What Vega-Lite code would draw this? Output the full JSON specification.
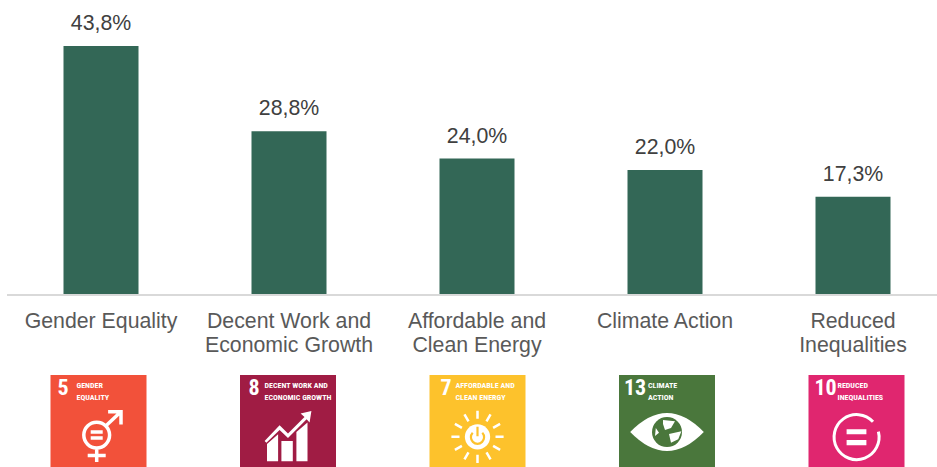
{"$schema":"https://vega.github.io/schema/vega-lite/v6.json","width":937,"height":467,"autosize":"none","padding":0,"background":"white","config":{"view":{"stroke":null},"text":{"font":"Liberation Sans"}},
"data":{"values":[
{"goal":"Gender Equality","cat":"Gender Equality","value":43.8,"label":"43,8%","num":"5","icon":"GENDER|EQUALITY"},
{"goal":"Decent Work","cat":"Decent Work and|Economic Growth","value":28.8,"label":"28,8%","num":"8","icon":"DECENT WORK AND|ECONOMIC GROWTH"},
{"goal":"Affordable","cat":"Affordable and|Clean Energy","value":24.0,"label":"24,0%","num":"7","icon":"AFFORDABLE AND|CLEAN ENERGY"},
{"goal":"Climate","cat":"Climate Action","value":22.0,"label":"22,0%","num":"13","icon":"CLIMATE|ACTION"},
{"goal":"Reduced","cat":"Reduced|Inequalities","value":17.3,"label":"17,3%","num":"10","icon":"REDUCED|INEQUALITIES"}]},
"resolve":{"scale":{"x":"independent"}},
"layer":[
{"layer":[
{"mark":{"type":"bar","width":75,"color":"#336756"},"encoding":{"y":{"field":"value","type":"quantitative"}}},
{"mark":{"type":"text","fontSize":21.3,"color":"#404040","baseline":"alphabetic","dy":-16},"encoding":{"y":{"field":"value","type":"quantitative"},"text":{"field":"label"}}},
{"mark":{"type":"text","fontSize":21.3,"color":"#595959","baseline":"alphabetic","lineBreak":"|","lineHeight":24},"encoding":{"y":{"datum":-5.8,"type":"quantitative"},"text":{"field":"cat"}}}],
"encoding":{"x":{"field":"goal","type":"nominal","sort":null,"axis":null,"scale":{"type":"band","range":[7,947],"paddingInner":0,"paddingOuter":0}},
"y":{"type":"quantitative","axis":null,"scale":{"domain":[-30.25,51.89],"nice":false,"zero":false}}}},
{"mark":{"type":"rule","color":"#D9D9D9","strokeWidth":2},"encoding":{"x":{"datum":0,"type":"quantitative","axis":null,"scale":{"domain":[0,1],"range":[7,937]}},"x2":{"datum":1},"y":{"datum":0,"type":"quantitative","axis":null,"scale":{"domain":[-30.25,51.89],"nice":false,"zero":false}}}},
{"encoding":{"x":{"field":"goal","type":"nominal","sort":null,"axis":null,"scale":{"type":"point","range":[98.5,856.5],"padding":0}},
"y":{"type":"quantitative","axis":null,"scale":{"domain":[-30.25,51.89],"nice":false,"zero":false}}},
"layer":[
{"mark":{"type":"bar","width":96},"encoding":{"y":{"datum":-14.07,"type":"quantitative"},"y2":{"datum":-30.25},"color":{"field":"goal","type":"nominal","legend":null,"scale":{"domain":["Gender Equality","Decent Work","Affordable","Climate","Reduced"],"range":["#F2513A","#A01C44","#FDC22C","#4A773C","#E0266F"]}}}},

{"transform":[{"filter":"datum.num=='5'"}],"layer":[
{"mark":{"type":"text","font":"Roboto Condensed, Liberation Sans","fontWeight":"bold","fontSize":22,"color":"white","align":"left","baseline":"alphabetic","dx":-41},"encoding":{"y":{"datum":-17.5,"type":"quantitative"},"text":{"field":"num"}}},
{"mark":{"type":"text","font":"Roboto Condensed, Liberation Sans","fontWeight":"bold","fontSize":8,"color":"white","align":"left","baseline":"alphabetic","lineBreak":"|","lineHeight":12,"dx":-22},"encoding":{"y":{"datum":-16.4,"type":"quantitative"},"text":{"field":"icon"}}},
{"mark":{"type":"point","shape":"M-.49 0A.43 .43 0 1 0 .37 0A.43 .43 0 1 0 -.49 0M-.06 .43V.9M-.36 .68H.24M.24 -.3L.72 -.75M.32 -.78H.75V-.35M-.26 -.1H.14M-.26 .1H.14","filled":false,"stroke":"white","strokeWidth":3.5,"size":3600,"opacity":1},"encoding":{"y":{"datum":-24.63,"type":"quantitative"}}}]},

{"transform":[{"filter":"datum.num=='8'"}],"layer":[
{"mark":{"type":"text","font":"Roboto Condensed, Liberation Sans","fontWeight":"bold","fontSize":22,"color":"white","align":"left","baseline":"alphabetic","dx":-39.5},"encoding":{"y":{"datum":-17.5,"type":"quantitative"},"text":{"field":"num"}}},
{"mark":{"type":"text","font":"Roboto Condensed, Liberation Sans","fontWeight":"bold","fontSize":8,"color":"white","align":"left","baseline":"alphabetic","lineBreak":"|","lineHeight":12,"dx":-23.5},"encoding":{"y":{"datum":-16.4,"type":"quantitative"},"text":{"field":"icon"}}},
{"mark":{"type":"point","shape":"M-.7 .87V.3L-.33 -.03V.87ZM-.22 .87V.2L.16 .2V.87ZM.28 .87V-.1L.65 -.42V.87ZM-.78 .2L-.28 -.33L0 -.05L.55 -.6L.42 -.72L.78 -.8L.72 -.42L.62 -.53L0 .1L-.28 -.17L-.72 .26Z","filled":true,"fill":"white","stroke":null,"size":3600,"opacity":1},"encoding":{"y":{"datum":-24.63,"type":"quantitative"}}}]},

{"transform":[{"filter":"datum.num=='7'"}],"layer":[
{"mark":{"type":"text","font":"Roboto Condensed, Liberation Sans","fontWeight":"bold","fontSize":22,"color":"white","align":"left","baseline":"alphabetic","dx":-37},"encoding":{"y":{"datum":-17.5,"type":"quantitative"},"text":{"field":"num"}}},
{"mark":{"type":"text","font":"Roboto Condensed, Liberation Sans","fontWeight":"bold","fontSize":8,"color":"white","align":"left","baseline":"alphabetic","lineBreak":"|","lineHeight":12,"dx":-22},"encoding":{"y":{"datum":-16.4,"type":"quantitative"},"text":{"field":"icon"}}},
{"mark":{"type":"point","shape":"M.6 0H.87M.52 .3L.753 .435M.3 .52L.435 .753M0 .6V.87M-.3 .52L-.435 .753M-.52 .3L-.753 .435M-.6 0H-.87M-.52 -.3L-.753 -.435M-.3 -.52L-.435 -.753M0 -.6V-.87M.3 -.52L.435 -.753M.52 -.3L.753 -.435","filled":false,"stroke":"white","strokeWidth":2.5,"size":3600,"opacity":1},"encoding":{"y":{"datum":-24.95,"type":"quantitative"}}},
{"mark":{"type":"point","shape":"circle","filled":true,"fill":"white","stroke":null,"size":640,"opacity":1},"encoding":{"y":{"datum":-24.95,"type":"quantitative"}}},
{"mark":{"type":"point","shape":"M-.16 -.14A.22 .22 0 1 0 .16 -.14M0 -.34V-.02","filled":false,"stroke":"#FDC22C","strokeWidth":2.2,"size":3600,"opacity":1},"encoding":{"y":{"datum":-24.95,"type":"quantitative"}}}]},

{"transform":[{"filter":"datum.num=='13'"}],"layer":[
{"mark":{"type":"text","font":"Roboto Condensed, Liberation Sans","fontWeight":"bold","fontSize":22,"color":"white","align":"left","baseline":"alphabetic","dx":-43},"encoding":{"y":{"datum":-17.5,"type":"quantitative"},"text":{"field":"num"}}},
{"mark":{"type":"text","font":"Roboto Condensed, Liberation Sans","fontWeight":"bold","fontSize":8,"color":"white","align":"left","baseline":"alphabetic","lineBreak":"|","lineHeight":12,"dx":-19},"encoding":{"y":{"datum":-16.4,"type":"quantitative"},"text":{"field":"icon"}}},
{"mark":{"type":"point","shape":"M-.92 0Q0 -.95 .92 0Q0 .95 -.92 0Z","filled":true,"fill":"white","stroke":null,"size":6400,"opacity":1},"encoding":{"y":{"datum":-24.1,"type":"quantitative"}}},
{"mark":{"type":"point","shape":"circle","filled":true,"fill":"#4A773C","stroke":null,"size":900,"opacity":1},"encoding":{"y":{"datum":-24.1,"type":"quantitative"}}},
{"mark":{"type":"point","shape":"M-.1 -.3L.2 -.27L.1 -.1L-.05 -.05L-.1 -.2ZM.05 .05L.36 -.02L.28 .18L.1 .27ZM-.28 -.1L-.2 .02L-.3 .1Z","filled":true,"fill":"white","stroke":null,"size":6400,"opacity":1},"encoding":{"y":{"datum":-24.1,"type":"quantitative"}}}]},

{"transform":[{"filter":"datum.num=='10'"}],"layer":[
{"mark":{"type":"text","font":"Roboto Condensed, Liberation Sans","fontWeight":"bold","fontSize":22,"color":"white","align":"left","baseline":"alphabetic","dx":-42},"encoding":{"y":{"datum":-17.5,"type":"quantitative"},"text":{"field":"num"}}},
{"mark":{"type":"text","font":"Roboto Condensed, Liberation Sans","fontWeight":"bold","fontSize":8,"color":"white","align":"left","baseline":"alphabetic","lineBreak":"|","lineHeight":12,"dx":-19},"encoding":{"y":{"datum":-16.4,"type":"quantitative"},"text":{"field":"icon"}}},
{"mark":{"type":"point","shape":"M.55 -.51A.75 .75 0 1 0 .73 -.18","filled":false,"stroke":"white","strokeWidth":3,"size":3600,"opacity":1},"encoding":{"y":{"datum":-24.98,"type":"quantitative"}}},
{"mark":{"type":"point","shape":"M-.33 -.26H.33V-.09H-.33ZM-.33 .1H.33V.27H-.33Z","filled":true,"fill":"white","stroke":null,"size":3600,"opacity":1},"encoding":{"y":{"datum":-24.98,"type":"quantitative"}}}]}
]}
]}
